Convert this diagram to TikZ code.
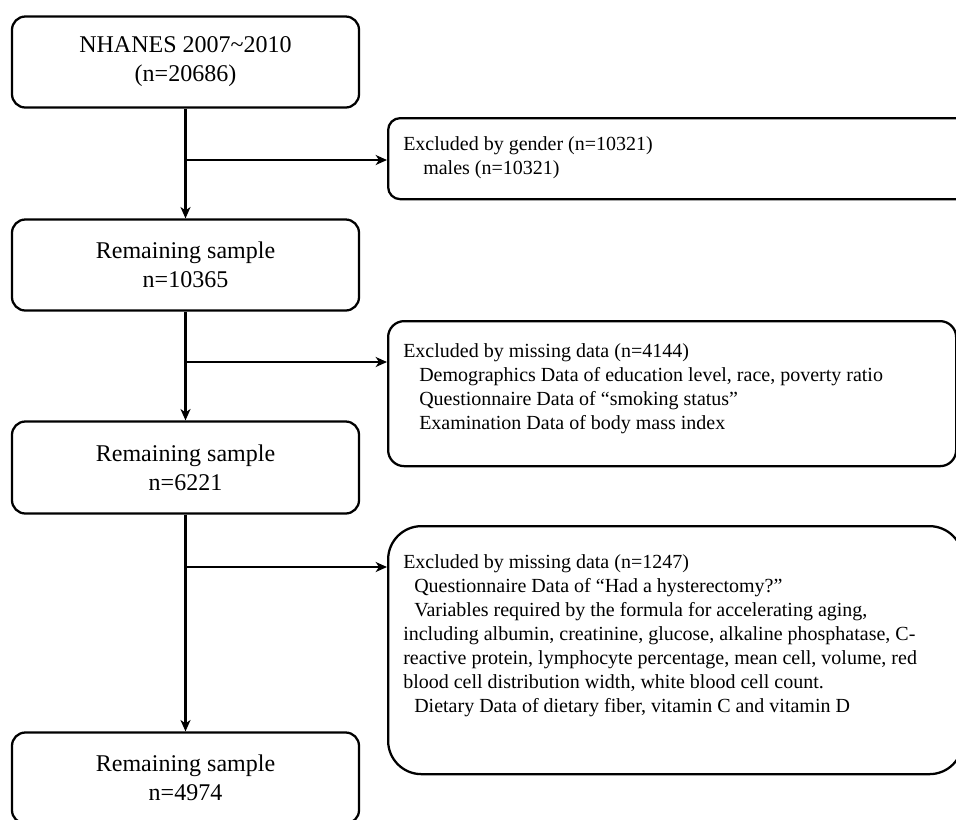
\documentclass[tikz,border=0pt]{standalone}
\usepackage{fontspec}
\setmainfont{Liberation Serif}
\usetikzlibrary{arrows.meta}
\begin{document}
\begin{tikzpicture}[x=0.75pt,y=-0.75pt,
  mainbox/.style={draw, line width=1.7pt, rounded corners=10pt, minimum width=260.25pt, minimum height=68.25pt, align=center, inner sep=0pt, font=\fontsize{18}{21.75}\selectfont},
  exbox/.style={draw, line width=1.7pt, anchor=north west, inner sep=0pt},
  extext/.style={anchor=base west, align=left, inner sep=0pt, font=\fontsize{15}{18}\selectfont},
  conn/.style={line width=1.6pt},
  tip/.style={-{Stealth[length=8.5pt,width=7.5pt,inset=2.5pt]}}]
\useasboundingbox (0,0) rectangle (956,819);

% main column
\node[mainbox] (a1) at (185.5,62) {NHANES 2007\textasciitilde 2010\\(n=20686)};
\node[mainbox] (a2) at (185.5,265) {Remaining sample\\n=10365};
\node[mainbox, minimum height=69pt] (a3) at (185.5,467.5) {Remaining sample\\n=6221};
\node[mainbox] (a4) at (185.5,778) {Remaining sample\\n=4974};

% exclusion boxes
\node[exbox, minimum width=441pt, minimum height=60.75pt, rounded corners=9pt] (e1) at (387,117) {};
\node[exbox, minimum width=426pt, minimum height=108.75pt, rounded corners=12pt] (e2) at (387,320) {};
\node[exbox, minimum width=431pt, minimum height=186pt, rounded corners=25pt] (e3) at (387,525) {};

% texts (anchor on the baseline of the last line; line spacing 24px)
\node[extext] (t1) at (403,174) {Excluded by gender (n=10321)\\
\hspace*{15pt}males (n=10321)};
\node[extext] (t2) at (403,429) {Excluded by missing data (n=4144)\\
\hspace*{12pt}Demographics Data of education level, race, poverty ratio\\
\hspace*{12pt}Questionnaire Data of “smoking status”\\
\hspace*{12pt}Examination Data of body mass index};
\node[extext] (t3) at (403,712) {Excluded by missing data (n=1247)\\
\hspace*{8.25pt}Questionnaire Data of “Had a hysterectomy?”\\
\hspace*{8.25pt}Variables required by the formula for accelerating aging,\\
including albumin, creatinine, glucose, alkaline phosphatase, C-\\
reactive protein, lymphocyte percentage, mean cell, volume, red\\
blood cell distribution width, white blood cell count.\\
\hspace*{8.25pt}Dietary Data of dietary fiber, vitamin C and vitamin D};

% branch points
\coordinate (b1) at (185.5,160);
\coordinate (b2) at (185.5,362);
\coordinate (b3) at (185.5,567);

% connectors
\draw[conn,tip] (a1) -- (a2);
\draw[conn,tip] (a2) -- (a3);
\draw[conn,tip] (a3) -- (a4);
\draw[conn,tip] (b1) -- (b1 -| e1.west);
\draw[conn,tip] (b2) -- (b2 -| e2.west);
\draw[conn,tip] (b3) -- (b3 -| e3.west);
\end{tikzpicture}
\end{document}
